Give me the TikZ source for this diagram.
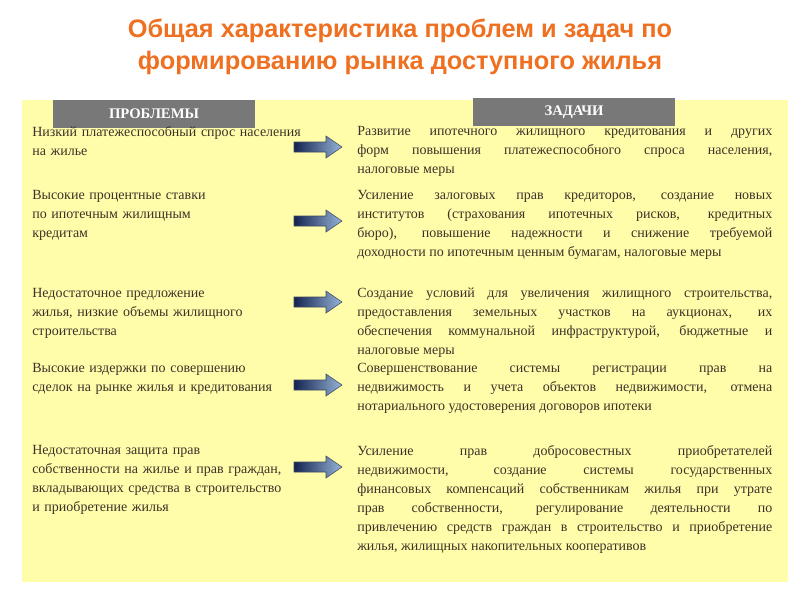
\documentclass[tikz,border=0pt]{standalone}
\usepackage{fontspec}
\setmainfont{Liberation Serif}
\newfontfamily\titlefont{Liberation Sans}
\definecolor{bgyellow}{RGB}{255,253,170}
\definecolor{titleorange}{RGB}{238,112,32}
\definecolor{hdrgray}{RGB}{120,120,120}
\definecolor{txt}{RGB}{60,50,40}
\definecolor{arrdark}{RGB}{20,35,80}
\definecolor{arrlight}{RGB}{150,180,215}
\tikzset{
  lefttxt/.style={anchor=north west,inner sep=0pt,align=left,text width=275*0.75pt,font=\fontsize{10.5}{14.25}\selectfont,text=txt},
  righttxt/.style={anchor=north west,inner sep=0pt,align=justify,text width=415*0.75pt,font=\fontsize{10.5}{14.25}\selectfont,text=txt},
  hdr/.style={fill=hdrgray,text=white,font=\bfseries\fontsize{11}{12}\selectfont,minimum width=202*0.75pt,minimum height=28*0.75pt,inner sep=0pt},
  arr/.style={left color=arrdark,right color=arrlight,draw=arrdark!60!gray,thin}
}
\newcommand\arrowat[2]{\draw[arr] (294,#2-5) -- (326,#2-5) -- (326,#2-11) -- (342,#2) -- (326,#2+11) -- (326,#2+5) -- (294,#2+5) -- cycle;\coordinate (#1) at (318,#2);}
\begin{document}
\begin{tikzpicture}[x=0.75pt,y=-0.75pt]
\useasboundingbox (0,0) rectangle (800,600);
\fill[white] (0,0) rectangle (800,600);
\fill[bgyellow] (22,100) rectangle (788,582);
\node[font=\titlefont\bfseries\fontsize{19}{24}\selectfont,text=titleorange,align=center] (title) at (400,47) {Общая характеристика проблем и задач по\\формированию рынка доступного жилья};
\node[hdr] (h1) at (154,114) {ПРОБЛЕМЫ};
\node[hdr] (h2) at (574,112) {ЗАДАЧИ};
% left
\node[lefttxt] (l1) at (32,126) {Низкий платежеспособный спрос населения\\на жилье};
\node[lefttxt] (l2) at (32,190) {Высокие процентные ставки\\по ипотечным жилищным\\кредитам};
\node[lefttxt] (l3) at (32,288) {Недостаточное предложение\\жилья, низкие объемы жилищного\\строительства};
\node[lefttxt] (l4) at (32,363) {Высокие издержки по совершению\\сделок на рынке жилья и кредитования};
\node[lefttxt] (l5) at (32,445) {Недостаточная защита прав\\собственности на жилье и прав граждан,\\вкладывающих средства в строительство\\и приобретение жилья};
% right
\node[righttxt] (r1) at (357,126) {Развитие ипотечного жилищного кредитования и других\linebreak форм повышения платежеспособного спроса населения,\linebreak налоговые меры};
\node[righttxt] (r2) at (357,190) {Усиление залоговых прав кредиторов, создание новых\linebreak институтов (страхования ипотечных рисков, кредитных\linebreak бюро), повышение надежности и снижение требуемой\linebreak доходности по ипотечным ценным бумагам, налоговые меры};
\node[righttxt] (r3) at (357,288) {Создание условий для увеличения жилищного строительства,\linebreak предоставления земельных участков на аукционах, их\linebreak обеспечения коммунальной инфраструктурой, бюджетные и\linebreak налоговые меры};
\node[righttxt] (r4) at (357,363) {Совершенствование системы регистрации прав на\linebreak недвижимость и учета объектов недвижимости, отмена\linebreak нотариального удостоверения договоров ипотеки};
\node[righttxt] (r5) at (357,445) {Усиление прав добросовестных приобретателей\linebreak недвижимости, создание системы государственных\linebreak финансовых компенсаций собственникам жилья при утрате\linebreak прав собственности, регулирование деятельности по\linebreak привлечению средств граждан в строительство и приобретение\linebreak жилья, жилищных накопительных кооперативов};
% arrows
\arrowat{a1}{147}
\arrowat{a2}{221}
\arrowat{a3}{302}
\arrowat{a4}{385}
\arrowat{a5}{467}
\end{tikzpicture}
\end{document}
